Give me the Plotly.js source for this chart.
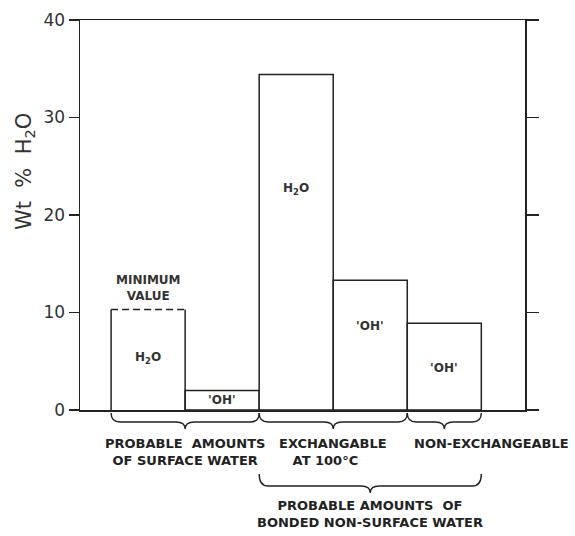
<!DOCTYPE html>
<html>
<head>
<meta charset="utf-8">
<script src="https://cdn.plot.ly/plotly-3.0.1.min.js"></script>
<style>html,body{margin:0;padding:0;background:#fff;}#chart{width:575px;height:536px;}</style>
</head>
<body>
<div id="chart"></div>
<script>
// ---- data ----
const categories = ['Surface H2O', 'Surface OH', 'Exchangeable H2O', 'Exchangeable OH', 'Non-exchangeable OH'];
const values = [10.3, 2.0, 34.4, 13.3, 8.9];
const barLabels = ['H<sub>2</sub>O', "'OH'", 'H<sub>2</sub>O', "'OH'", "'OH'"];
const yTicks = [0, 10, 20, 30, 40];
const groupLabels = ['PROBABLE  AMOUNTS<br>OF SURFACE WATER', 'EXCHANGABLE<br>\u00a0\u00a0\u00a0AT 100\u00b0C', 'NON-EXCHANGEABLE'];
const groupStart = [0, 2, 4];
const groupEnd = [1, 3, 4];
const bondedLabel = 'PROBABLE AMOUNTS  OF<br>BONDED NON-SURFACE WATER';
const bondedStart = 2, bondedEnd = 4;
const minLabel = 'MINIMUM<br>VALUE';

// ---- layout helpers ----
const X0 = -0.92, X1 = 5.09;
const plotW = 445, plotH = 390;
const ink = '#222';
const fontB = 'DejaVu Sans, Arial, sans-serif';
const px = x => (x - X0) / (X1 - X0);
const pyBelow = d => -d / plotH;

function brace(xl, xr, dEnd, dMid, dTip, r) {
  const a = px(xl), b = px(xr), m = (a + b) / 2, R = r / plotW;
  const ye = pyBelow(dEnd), ym = pyBelow(dMid), yt = pyBelow(dTip);
  return `M ${a},${ye} Q ${a},${ym} ${a + R},${ym} L ${m - R},${ym} Q ${m},${ym} ${m},${yt} ` +
         `Q ${m},${ym} ${m + R},${ym} L ${b - R},${ym} Q ${b},${ym} ${b},${ye}`;
}

const xs = values.map((v, i) => i);
const lineW = values.map((v, i) => i === 0 ? 0 : 1.5);

const bars = {
  type: 'bar', x: xs, y: values, width: 1,
  hovertext: categories, hoverinfo: 'text+y',
  marker: { color: '#fff', line: { color: ink, width: lineW } },
  showlegend: false
};
const v0 = values[0];
const sides0 = {
  type: 'scatter', mode: 'lines', x: [-0.5, -0.5, null, 0.5, 0.5], y: [0, v0, null, 0, v0],
  line: { color: ink, width: 1.5 }, hoverinfo: 'skip', showlegend: false
};
const top0 = {
  type: 'scatter', mode: 'lines', x: [-0.5, 0.5], y: [v0, v0], yaxis: 'y2',
  line: { color: ink, width: 1.5, dash: '7px,4px' }, hoverinfo: 'skip', showlegend: false
};

const labelFrac = [0.52, 0.5, 0.66, 0.65, 0.48];
const annotations = [];
values.forEach((v, i) => {
  annotations.push({
    xref: 'x', yref: 'y', x: i, y: v * labelFrac[i], text: barLabels[i], showarrow: false,
    font: { family: fontB, size: 12, color: '#333', weight: 'bold' }
  });
});
annotations.push({
  xref: 'x', yref: 'y', x: 0, y: v0, yanchor: 'bottom', yshift: 5, text: minLabel, showarrow: false,
  font: { family: fontB, size: 12, color: '#333', weight: 'bold' }, align: 'center'
});
const labelShift = [0, 0, 47];
const labelAlign = ['center', 'left', 'center'];
groupLabels.forEach((t, i) => {
  annotations.push({
    xref: 'x', yref: 'paper', x: (groupStart[i] + groupEnd[i]) / 2, xshift: labelShift[i],
    y: pyBelow(24), yanchor: 'top', text: t, showarrow: false, align: labelAlign[i],
    font: { family: fontB, size: 13, color: '#222', weight: 'bold' }
  });
});
annotations.push({
  xref: 'x', yref: 'paper', x: (bondedStart + bondedEnd) / 2, y: pyBelow(86), yanchor: 'top',
  text: bondedLabel, showarrow: false, align: 'center',
  font: { family: fontB, size: 13, color: '#222', weight: 'bold' }
});
annotations.push({
  xref: 'paper', yref: 'paper', x: -55 / plotW, y: (410 - 172) / plotH, textangle: -90,
  xanchor: 'center', yanchor: 'middle',
  text: 'Wt\u00a0\u00a0%\u00a0\u00a0H<sub>2</sub>O', showarrow: false,
  font: { family: fontB, size: 21, color: '#333' }
});

const shapes = [];
groupStart.forEach((s, i) => {
  shapes.push({ type: 'path', xref: 'paper', yref: 'paper',
    path: brace(s - 0.5, groupEnd[i] + 0.5, 3, 12, 19, 9), line: { color: ink, width: 1.4 } });
});
shapes.push({ type: 'path', xref: 'paper', yref: 'paper',
  path: brace(bondedStart - 0.5, bondedEnd + 0.5, 64, 76, 83, 9), line: { color: ink, width: 1.4 } });

const layout = {
  width: 575, height: 536,
  margin: { l: 80, r: 50, t: 20, b: 126 },
  paper_bgcolor: '#fff', plot_bgcolor: '#fff',
  bargap: 0, showlegend: false,
  xaxis: { range: [X0, X1], showgrid: false, zeroline: false, showticklabels: false, ticks: '',
           showline: true, mirror: true, linecolor: ink, linewidth: 1.5, fixedrange: true },
  yaxis: { range: [0, 40], tickvals: yTicks, ticks: 'outside', ticklen: 10, tickwidth: 1.5, tickcolor: ink,
           showgrid: false, zeroline: false, showline: true, linecolor: ink, linewidth: 1.5,
           tickfont: { family: fontB, size: 17, color: '#333' }, fixedrange: true },
  yaxis2: { range: [0, 40], overlaying: 'y', side: 'right', anchor: 'x', tickvals: yTicks, ticks: 'outside',
            ticklen: 12, tickwidth: 1.5, tickcolor: ink, showticklabels: false, showgrid: false, zeroline: false,
            showline: true, linecolor: ink, linewidth: 1.5, fixedrange: true },
  annotations: annotations,
  shapes: shapes
};

Plotly.newPlot('chart', [bars, sides0, top0], layout, { displayModeBar: false, staticPlot: true });
</script>
</body>
</html>
